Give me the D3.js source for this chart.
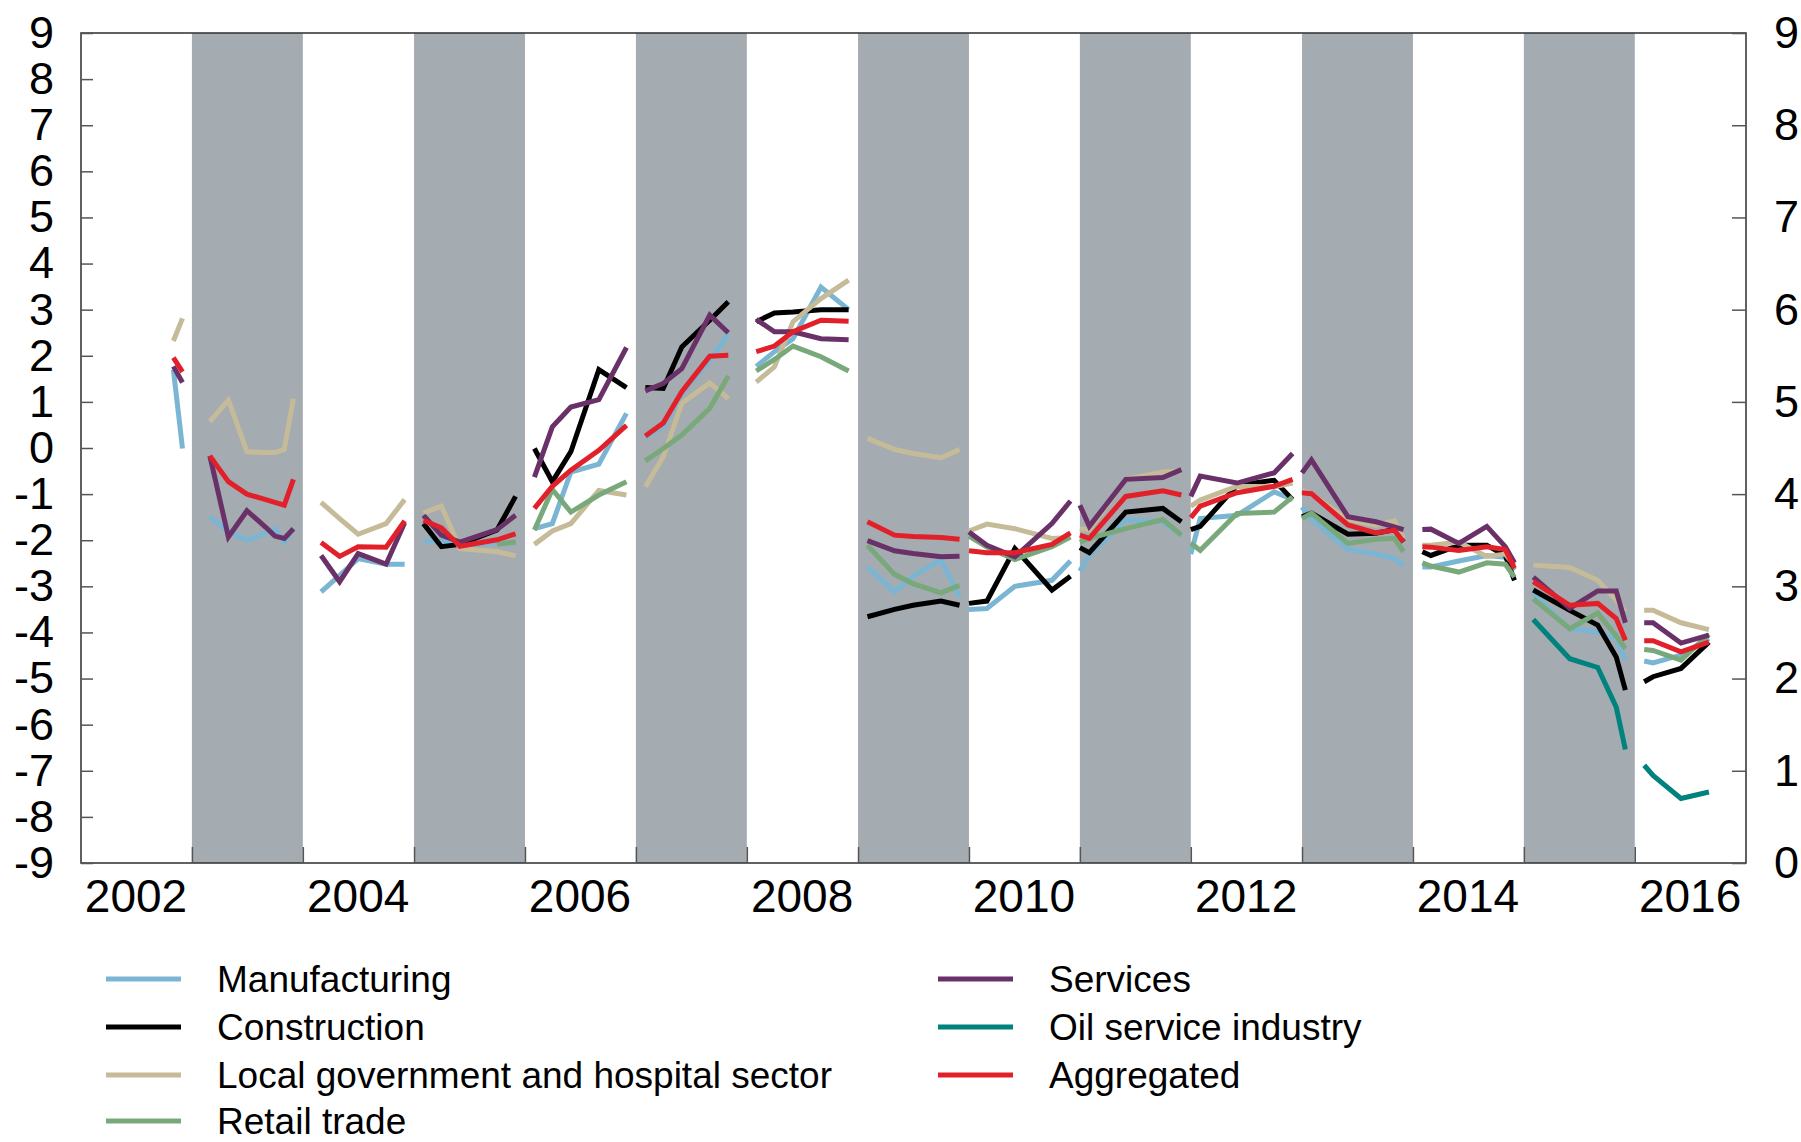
<!DOCTYPE html>
<html>
<head>
<meta charset="utf-8">
<script src="https://cdn.jsdelivr.net/npm/d3@7"></script>
<style>
  body { margin: 0; background: #fff; }
  text { font-family: "Liberation Sans", Arial, sans-serif; fill: #000; }
</style>
</head>
<body>
<div id="chart"></div>
<script>
// observation dates (year-month). every new year starts a new line piece
const dates = [
  "2002-11", "2002-12",
  "2003-03", "2003-05", "2003-07", "2003-09", "2003-10", "2003-11", "2003-12",
  "2004-03", "2004-05", "2004-07", "2004-10", "2004-12",
  "2005-02", "2005-04", "2005-06", "2005-10", "2005-12",
  "2006-02", "2006-04", "2006-06", "2006-09", "2006-12",
  "2007-02", "2007-04", "2007-06", "2007-09", "2007-11",
  "2008-02", "2008-04", "2008-06", "2008-09", "2008-12",
  "2009-02", "2009-05", "2009-07", "2009-10", "2009-12",
  "2010-01", "2010-03", "2010-06", "2010-10", "2010-12",
  "2011-01", "2011-02", "2011-06", "2011-10", "2011-12",
  "2012-01", "2012-02", "2012-06", "2012-10", "2012-12",
  "2013-01", "2013-02", "2013-06", "2013-09", "2013-11", "2013-12",
  "2014-02", "2014-03", "2014-06", "2014-09", "2014-11", "2014-12",
  "2015-02", "2015-06", "2015-09", "2015-11", "2015-12",
  "2016-02", "2016-03", "2016-06", "2016-09"
];

const manufacturing = [
  1.70, -0.01,
  -1.49, -1.80, -2.00, -1.85, -1.75, -2.04, -1.75,
  -3.12, -2.76, -2.40, -2.52, -2.52,
  -2.01, -2.01, -2.14, -2.05, -2.06,
  -1.75, -1.64, -0.52, -0.35, 0.75,
  0.23, 0.46, 1.18, 1.90, 2.47,
  1.77, 2.09, 2.37, 3.49, 3.00,
  -2.58, -3.12, -2.78, -2.43, -3.23,
  -3.50, -3.48, -3.00, -2.87, -2.45,
  -2.67, -2.33, -1.55, -1.60, -1.89,
  -2.30, -1.53, -1.46, -0.95, -1.12,
  -1.28, -1.55, -2.20, -2.30, -2.40, -2.54,
  -2.58, -2.58, -2.45, -2.33, -2.37, -2.65,
  -3.16, -3.92, -3.99, -4.13, -4.59,
  -4.62, -4.66, -4.49, -4.13
];

const construction = [
  null, null,
  null, null, null, null, null, null, null,
  null, null, null, null, null,
  -1.64, -2.14, -2.09, -1.78, -1.05,
  -0.01, -0.73, -0.08, 1.70, 1.31,
  1.31, 1.29, 2.19, 2.77, 3.17,
  2.74, 2.93, 2.95, 3.00, 3.00,
  -3.66, -3.50, -3.41, -3.32, -3.41,
  -3.37, -3.32, -2.18, -3.08, -2.78,
  -2.16, -2.27, -1.39, -1.31, -1.60,
  -1.77, -1.70, -0.81, -0.70, -1.12,
  -1.49, -1.41, -1.87, -1.85, -1.77, -2.04,
  -2.25, -2.33, -2.11, -2.11, -2.33, -2.87,
  -3.08, -3.52, -3.84, -4.53, -5.25,
  -5.07, -4.96, -4.78, -4.21
];

const localGovernment = [
  2.32, 2.81,
  0.57, 1.04, -0.08, -0.10, -0.10, -0.03, 1.07,
  -1.18, -1.53, -1.87, -1.64, -1.12,
  -1.41, -1.26, -2.18, -2.25, -2.34,
  -2.09, -1.80, -1.64, -0.92, -1.02,
  -0.84, -0.19, 0.97, 1.41, 1.07,
  1.43, 1.76, 2.74, 3.24, 3.64,
  0.21, -0.03, -0.12, -0.21, -0.03,
  -1.80, -1.65, -1.75, -1.96, -1.94,
  -1.75, -1.77, -0.68, -0.52, -0.50,
  -1.26, -1.13, -0.83, -0.84, -0.76,
  -0.92, -1.00, -1.55, -1.68, -1.58, -1.96,
  -2.11, -2.11, -2.04, -2.35, -2.30, -2.54,
  -2.54, -2.59, -2.87, -3.30, -3.55,
  -3.52, -3.52, -3.79, -3.94
];

const retailTrade = [
  null, null,
  null, null, null, null, null, null, null,
  null, null, null, null, null,
  null, null, null, -2.09, -2.04,
  -1.78, -0.90, -1.39, -1.02, -0.73,
  -0.28, -0.01, 0.28, 0.86, 1.56,
  1.67, 1.92, 2.21, 1.98, 1.67,
  -2.11, -2.74, -2.94, -3.14, -2.98,
  -1.91, -2.15, -2.42, -2.14, -1.93,
  -2.04, -1.96, -1.75, -1.55, -1.89,
  -2.06, -2.22, -1.42, -1.39, -1.06,
  -1.53, -1.41, -2.07, -1.98, -1.96, -2.25,
  -2.49, -2.56, -2.69, -2.49, -2.52, -2.80,
  -3.27, -3.92, -3.58, -4.08, -4.35,
  -4.37, -4.39, -4.60, -4.04
];

const services = [
  1.77, 1.42,
  -0.17, -1.93, -1.36, -1.72, -1.91, -1.96, -1.75,
  -2.33, -2.90, -2.29, -2.52, -1.62,
  -1.46, -1.89, -2.04, -1.77, -1.46,
  -0.63, 0.46, 0.89, 1.05, 2.18,
  1.24, 1.40, 1.72, 2.88, 2.50,
  2.79, 2.52, 2.52, 2.37, 2.35,
  -2.01, -2.23, -2.29, -2.36, -2.35,
  -1.82, -2.11, -2.36, -1.64, -1.15,
  -1.24, -1.70, -0.68, -0.64, -0.47,
  -1.05, -0.61, -0.76, -0.54, -0.12,
  -0.54, -0.26, -1.49, -1.60, -1.71, -1.77,
  -1.77, -1.76, -2.07, -1.70, -2.14, -2.49,
  -2.80, -3.48, -3.10, -3.10, -3.79,
  -3.79, -3.79, -4.23, -4.06
];

const oilService = [
  null, null,
  null, null, null, null, null, null, null,
  null, null, null, null, null,
  null, null, null, null, null,
  null, null, null, null, null,
  null, null, null, null, null,
  null, null, null, null, null,
  null, null, null, null, null,
  null, null, null, null, null,
  null, null, null, null, null,
  null, null, null, null, null,
  null, null, null, null, null, null,
  null, null, null, null, null, null,
  -3.72, -4.57, -4.76, -5.62, -6.54,
  -6.88, -7.10, -7.60, -7.46
];

const aggregated = [
  1.96, 1.65,
  -0.17, -0.73, -1.00, -1.12, -1.18, -1.24, -0.68,
  -2.05, -2.35, -2.14, -2.15, -1.58,
  -1.57, -1.73, -2.13, -1.99, -1.86,
  -1.31, -0.83, -0.48, -0.05, 0.49,
  0.26, 0.54, 1.22, 1.99, 2.01,
  2.09, 2.21, 2.52, 2.77, 2.75,
  -1.60, -1.89, -1.92, -1.94, -1.98,
  -2.23, -2.27, -2.27, -2.09, -1.84,
  -1.89, -1.96, -1.05, -0.93, -1.02,
  -1.51, -1.26, -0.97, -0.83, -0.68,
  -0.97, -0.99, -1.67, -1.84, -1.78, -2.04,
  -2.14, -2.15, -2.22, -2.14, -2.20, -2.61,
  -2.90, -3.41, -3.37, -3.70, -4.17,
  -4.18, -4.18, -4.42, -4.21
];

const seriesNames = ["Manufacturing", "Construction", "Local government and hospital sector",
  "Retail trade", "Services", "Oil service industry", "Aggregated"];
const seriesValues = [manufacturing, construction, localGovernment, retailTrade, services, oilService, aggregated];
const seriesColors = ["#7ab6d3", "#000000", "#c6bb98", "#79a97b", "#6a3168", "#00827f", "#e2202a"];

const leftTicks = d3.range(-9, 10);   // -9 .. 9
const rightTicks = d3.range(0, 10);   // 0 .. 9
const yearLabels = [2002, 2004, 2006, 2008, 2010, 2012, 2014, 2016];
const shadedYears = [2003, 2005, 2007, 2009, 2011, 2013, 2015];

// canvas
const width = 1801;
const height = 1142;
const plot = { left: 81, right: 1746, top: 33, bottom: 863 };

const svg = d3.select("#chart").append("svg")
  .attr("width", width)
  .attr("height", height)
  .style("display", "block");

const parse = d3.timeParse("%Y-%m");

const x = d3.scaleTime()
  .domain([new Date(2002, 0, 1), new Date(2017, 0, 1)])
  .range([plot.left, plot.right]);
const y = d3.scaleLinear().domain([-9, 9]).range([plot.bottom, plot.top]);
const yRight = d3.scaleLinear().domain([0, 9]).range([plot.bottom, plot.top]);

// grey bands for every other year
svg.append("g").selectAll("rect")
  .data(shadedYears)
  .join("rect")
  .attr("x", d => x(new Date(d, 0, 1)))
  .attr("y", plot.top)
  .attr("width", d => x(new Date(d + 1, 0, 1)) - x(new Date(d, 0, 1)))
  .attr("height", plot.bottom - plot.top)
  .attr("fill", "#a4abb1");

// lines, one piece per year
const line = d3.line()
  .defined(d => d.v !== null)
  .x(d => x(d.date))
  .y(d => y(d.v));

const linesG = svg.append("g")
  .attr("fill", "none")
  .attr("stroke-width", 5)
  .attr("stroke-linejoin", "miter");

seriesValues.forEach((vals, i) => {
  const pts = dates.map((s, j) => ({ date: parse(s), v: vals[j] }));
  const byYear = d3.groups(pts, d => d.date.getFullYear());
  byYear.forEach(([yr, p]) => {
    const valid = p.filter(d => d.v !== null);
    if (valid.length < 2) return;
    linesG.append("path")
      .datum(valid)
      .attr("stroke", seriesColors[i])
      .attr("d", line);
  });
});

// frame
svg.append("rect")
  .attr("x", plot.left)
  .attr("y", plot.top)
  .attr("width", plot.right - plot.left)
  .attr("height", plot.bottom - plot.top)
  .attr("fill", "none")
  .attr("stroke", "#3a3a3a")
  .attr("stroke-width", 1.6);

// axes
const leftAxis = svg.append("g")
  .attr("transform", `translate(${plot.left},0)`)
  .call(d3.axisLeft(y).tickValues(leftTicks).tickSize(-12).tickPadding(27)
    .tickFormat(d => String(d)));

const rightAxis = svg.append("g")
  .attr("transform", `translate(${plot.right},0)`)
  .call(d3.axisRight(yRight).tickValues(rightTicks).tickSize(-14).tickPadding(28)
    .tickFormat(d => String(d)));

const bottomAxis = svg.append("g")
  .attr("transform", `translate(0,${plot.bottom})`)
  .call(d3.axisBottom(x).tickValues(d3.range(2003, 2017).map(yr => new Date(yr, 0, 1)))
    .tickSize(-16).tickFormat(""));

[leftAxis, rightAxis, bottomAxis].forEach(a => {
  a.select(".domain").remove();
  a.selectAll(".tick line").attr("stroke", "#555").attr("stroke-width", 1.5);
  a.selectAll(".tick text").style("font-size", "45px").attr("fill", "#000");
});

// year labels in the middle of each even year
svg.append("g").selectAll("text")
  .data(yearLabels)
  .join("text")
  .attr("x", d => x(new Date(d, 6, 1)))
  .attr("y", 912)
  .attr("text-anchor", "middle")
  .style("font-size", "46px")
  .text(d => d);

// legend in two columns
const legendCols = [
  { xLine: 106, xText: 217, items: [0, 1, 2, 3] },
  { xLine: 938, xText: 1049, items: [4, 5, 6] }
];
const legendRows = [979, 1027, 1075, 1121];

legendCols.forEach(col => {
  col.items.forEach((idx, r) => {
    const cy = legendRows[r];
    svg.append("line")
      .attr("x1", col.xLine).attr("x2", col.xLine + 75)
      .attr("y1", cy).attr("y2", cy)
      .attr("stroke", seriesColors[idx])
      .attr("stroke-width", 5);
    svg.append("text")
      .attr("x", col.xText)
      .attr("y", cy + 13)
      .style("font-size", "37px")
      .text(seriesNames[idx]);
  });
});
</script>
</body>
</html>
